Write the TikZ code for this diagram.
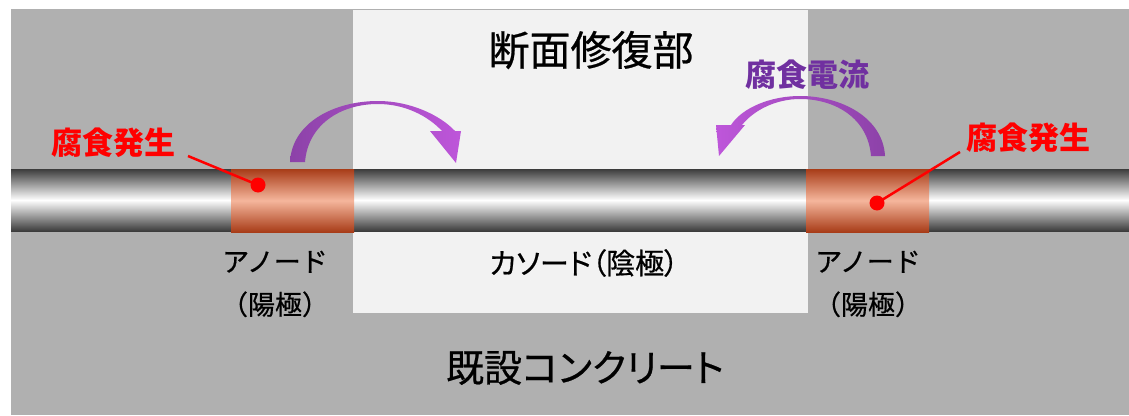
\documentclass[tikz,border=0pt]{standalone}
\usepackage{fontspec}
\setmainfont{Noto Sans CJK JP}[UprightFeatures={FakeBold=0.6}]
\newfontfamily\propjp{Noto Sans CJK JP}[UprightFeatures={FakeBold=0.6}, RawFeature=+palt]
\usepackage{tikz}
\usetikzlibrary{positioning}

\definecolor{oldconc}{RGB}{176,176,176}
\definecolor{newconc}{RGB}{242,242,242}
\definecolor{steeldark}{RGB}{60,60,60}
\definecolor{rust}{RGB}{168,60,24}
\definecolor{rustlight}{RGB}{245,182,156}
\definecolor{flowdark}{RGB}{140,66,168}
\definecolor{flowlight}{RGB}{190,86,218}
\definecolor{flowtext}{RGB}{112,48,160}

\tikzset{
  corr/.style={text=red, font=\fontsize{31}{36}\selectfont\bfseries, inner sep=0pt},
  spot/.style={circle, fill=red, inner sep=0pt, minimum size=15pt},
  lead/.style={red, line width=2.5pt},
  pole/.style={align=center, font=\fontsize{27}{43}\selectfont, inner sep=0pt}
}

\begin{document}
\begin{tikzpicture}[x=1pt, y=-1pt]
  \useasboundingbox (0,0) rectangle (1129,415);
  \fill[white] (0,0) rectangle (1129,415);

  % concrete: old body and the repaired section
  \fill[oldconc] (11,9) rectangle (1129,415);
  \fill[newconc] (353,9.5) rectangle (808,313);

  % rebar with the two corroding spots
  \shade[top color=steeldark, bottom color=steeldark, middle color=white] (11,169) rectangle (1129,231);
  \shade[top color=rust, bottom color=rust, middle color=rustlight] (231,169) rectangle (354,232);
  \shade[top color=rust, bottom color=rust, middle color=rustlight] (806,169) rectangle (929,232);

  % corrosion current
  \shade[left color=flowdark, right color=flowlight]
    (290,162) .. controls (292,122) and (335,101) .. (378,101)
    .. controls (410,101) and (440,115) .. (455,131) -- (461,131) -- (456,163) -- (430,131) -- (442,131)
    .. controls (428,116) and (405,104) .. (378,104)
    .. controls (340,104) and (308,125) .. (305,162) -- cycle;
  \shade[left color=flowlight, right color=flowdark]
    (885,156) .. controls (883,118) and (842,96) .. (800,96)
    .. controls (770,96) and (742,108) .. (731,125) -- (716,125) -- (719,156) -- (745,125) -- (742,125)
    .. controls (754,110) and (776,99) .. (800,99)
    .. controls (835,99) and (868,118) .. (871,156) -- cycle;

  \node[font=\fontsize{41}{48}\selectfont, inner sep=0pt] (repair) at (591,50) {断面修復部};
  \node[font=\propjp\fontsize{38}{44}\selectfont, inner sep=0pt] (exist) at (585,368) {既設コンクリート};
  \node[font=\propjp\fontsize{29}{34}\selectfont, inner sep=0pt] (cathode) at (584,263) {カソード（陰極）};
  \node[pole] (anodeL) at (275,284) {アノード\\（陽極）};
  \node[pole] (anodeR) at (868,284) {アノード\\（陽極）};
  \node[text=flowtext, font=\fontsize{31}{36}\selectfont\bfseries, inner sep=0pt] (current) at (807,75) {腐食電流};

  \node[corr] (corrL) at (113,143) {腐食発生};
  \node[corr] (corrR) at (1028,138) {腐食発生};
  \node[spot] (spotL) at (258,185) {};
  \node[spot] (spotR) at (877,203) {};
  \coordinate (tipL) at (188,156);
  \coordinate (tipR) at (960,152);
  \draw[lead] (tipL) -- (spotL.center);
  \draw[lead] (tipR) -- (spotR.center);
\end{tikzpicture}
\end{document}
